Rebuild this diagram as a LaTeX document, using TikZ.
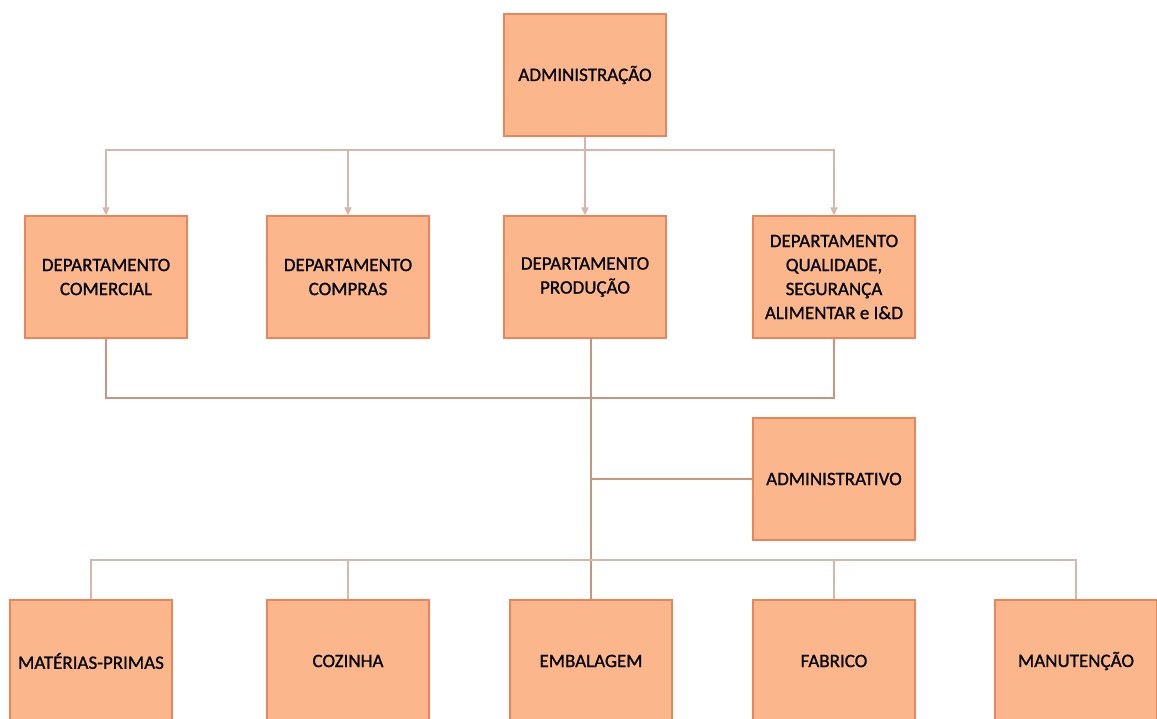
\documentclass[tikz,border=0pt]{standalone}
\usepackage{fontspec}
\setmainfont[FakeBold=0.8]{Carlito}
\usetikzlibrary{arrows.meta}
\definecolor{boxfill}{HTML}{FBB68C}
\definecolor{boxline}{HTML}{E5865C}
\definecolor{linkup}{HTML}{D4B8AE}
\definecolor{linkdown}{HTML}{C9957F}
\tikzset{
  x=1pt, y=-1pt,
  unit/.style={draw=boxline, fill=boxfill, line width=1.2pt,
    minimum width=162pt, minimum height=122pt, inner sep=2pt,
    align=center, font=\fontsize{19}{24}\selectfont, text=black},
  feed/.style={draw=linkup, line width=1.6pt,
    -{Triangle[width=7pt,length=8pt]}},
  tie/.style={draw=linkdown, line width=1.4pt},
  bus/.style={draw=linkup, line width=1.6pt}
}
\begin{document}
\begin{tikzpicture}
\clip (0,0) rectangle (1157,718);
\fill[white] (0,0) rectangle (1157,718);

% top level
\node[unit] (adm) at (585,75) {ADMINISTRAÇÃO};

% departments
\node[unit] (com)  at (106,277) {DEPARTAMENTO\\COMERCIAL};
\node[unit] (cmp)  at (348,277) {DEPARTAMENTO\\COMPRAS};
\node[unit] (prod) at (585,277) {DEPARTAMENTO\\PRODUÇÃO};
\node[unit] (qual) at (834,277) {DEPARTAMENTO\\QUALIDADE,\\SEGURANÇA\\ALIMENTAR e I\&D};

% support unit
\node[unit] (admv) at (834,479) {ADMINISTRATIVO};

% production sections
\node[unit] (mp)  at (91,661)   {MATÉRIAS-PRIMAS};
\node[unit] (coz) at (348,661)  {COZINHA};
\node[unit] (emb) at (591,661)  {EMBALAGEM};
\node[unit] (fab) at (834,661)  {FABRICO};
\node[unit] (man) at (1076,661) {MANUTENÇÃO};

% named bus points
\coordinate (topbus) at (585,150);
\coordinate (midbus) at (106,398);
\coordinate (lowbus) at (91,560);

% administration to departments
\draw[feed] (adm.south) -- (topbus) -| (com.north);
\draw[feed] (adm.south) -- (topbus) -| (cmp.north);
\draw[feed] (adm.south) -- (prod.north);
\draw[feed] (adm.south) -- (topbus) -| (qual.north);

% departments tied together
\draw[tie] (com.south) -- (midbus) -| (qual.south);

% production trunk
\draw[tie] (prod.south -| emb.north) -- (emb.north);
\draw[tie] (admv.west) -- (admv.west -| emb.north);

% sections bus
\draw[bus] (mp.north) -- (lowbus) -| (man.north);
\draw[bus] (coz.north) -- (coz.north |- lowbus);
\draw[bus] (fab.north) -- (fab.north |- lowbus);
\end{tikzpicture}
\end{document}
